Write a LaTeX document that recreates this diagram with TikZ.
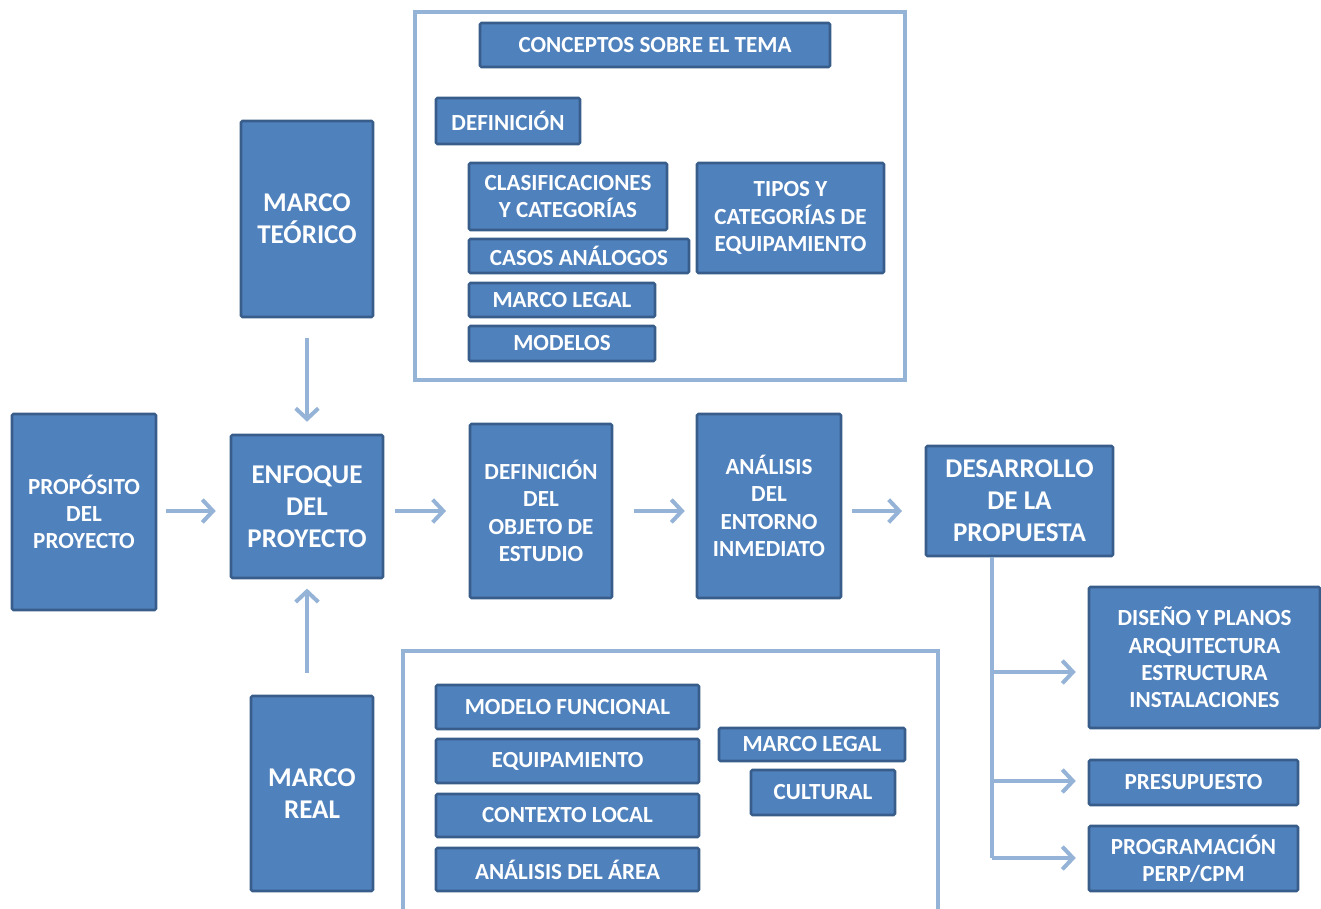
\documentclass[tikz,border=0pt]{standalone}
\usepackage{fontspec}
\setmainfont{Carlito}
\usetikzlibrary{arrows.meta}
\definecolor{boxfill}{HTML}{4F81BD}
\definecolor{boxedge}{HTML}{385D8A}
\definecolor{linkc}{HTML}{95B3D7}
\newcommand\bx[7]{\node[box,#6,minimum width={(#4-#2)*0.75pt},minimum height={(#5-#3)*0.75pt}] (#1) at ({(#2+#4)/2},{(#3+#5)/2}) {#7};}
\tikzset{
  box/.style={draw=boxedge,fill=boxfill,line width=1.9pt,rounded corners=1pt,text=white,align=center,inner sep=1pt},
  sm/.style={font=\fontsize{17.3}{20.5}\selectfont\bfseries},
  lg/.style={font=\fontsize{20.3}{24}\selectfont\bfseries},
  frame/.style={draw=linkc,line width=2.4pt},
  conn/.style={draw=linkc,line width=3pt},
  arr/.style={conn,-{Straight Barb[length=8pt,width=17pt,line width=3pt]}},
}
\begin{document}
\begin{tikzpicture}[x=0.75pt,y=-0.75pt]
\useasboundingbox (0,0) rectangle (1321,909);
% frames
\draw[frame] (415,12) rectangle (905,380);
\draw[frame] (403,915) -- (403,651) -- (938,651) -- (938,915);
% top frame content
\bx{conc}{480}{23}{830}{67}{sm}{CONCEPTOS SOBRE EL TEMA}
\bx{defi}{436}{98}{580}{144}{sm}{DEFINICIÓN}
\bx{clas}{469}{163}{667}{230}{sm}{CLASIFICACIONES\\Y CATEGORÍAS}
\bx{casos}{469}{239}{689}{273}{sm}{CASOS ANÁLOGOS}
\bx{mlegt}{469}{283}{655}{317}{sm}{MARCO LEGAL}
\bx{mode}{469}{326}{655}{361}{sm}{MODELOS}
\bx{tipos}{697}{163}{884}{273}{sm}{TIPOS Y\\CATEGORÍAS DE\\EQUIPAMIENTO}
% main row
\bx{teo}{241}{121}{373}{317}{lg}{MARCO\\TEÓRICO}
\bx{prop}{12}{414}{156}{610}{sm}{PROPÓSITO\\DEL\\PROYECTO}
\bx{enf}{231}{435}{383}{578}{lg}{ENFOQUE\\DEL\\PROYECTO}
\bx{obj}{470}{424}{612}{598}{sm}{DEFINICIÓN\\DEL\\OBJETO DE\\ESTUDIO}
\bx{ana}{697}{414}{841}{598}{sm}{ANÁLISIS\\DEL\\ENTORNO\\INMEDIATO}
\bx{des}{926}{446}{1113}{556}{lg}{DESARROLLO\\DE LA\\PROPUESTA}
\bx{real}{251}{696}{373}{891}{lg}{MARCO\\REAL}
% right column
\bx{dis}{1089}{587}{1320}{728}{sm}{DISEÑO Y PLANOS\\ARQUITECTURA\\ESTRUCTURA\\INSTALACIONES}
\bx{pres}{1089}{760}{1298}{805}{sm}{PRESUPUESTO}
\bx{prog}{1089}{826}{1298}{891}{sm}{PROGRAMACIÓN\\PERP/CPM}
% bottom frame content
\bx{mfun}{436}{685}{699}{729}{sm}{MODELO FUNCIONAL}
\bx{equi}{436}{739}{699}{783}{sm}{EQUIPAMIENTO}
\bx{ctx}{436}{794}{699}{837}{sm}{CONTEXTO LOCAL}
\bx{area}{436}{848}{699}{891}{sm}{ANÁLISIS DEL ÁREA}
\bx{mlegb}{719}{728}{905}{761}{sm}{MARCO LEGAL}
\bx{cult}{751}{770}{895}{815}{sm}{CULTURAL}
% connectors
\coordinate (row) at (0,511);
\draw[arr,shorten <=6.75pt,shorten >=10.5pt] (prop.east |- row) -- (enf.west |- row);
\draw[arr,shorten <=8.25pt,shorten >=17pt] (enf.east |- row) -- (obj.west |- row);
\draw[arr,shorten <=15.75pt,shorten >=8.25pt] (obj.east |- row) -- (ana.west |- row);
\draw[arr,shorten <=7.5pt,shorten >=17pt] (ana.east |- row) -- (des.west |- row);
\draw[arr,shorten <=15pt,shorten >=9pt] (teo.south) -- (enf.north);
\draw[arr,shorten <=16.5pt,shorten >=7pt] (enf.south |- real.north) -- (enf.south);
\coordinate (b1) at (992,672);
\coordinate (b2) at (992,781);
\coordinate (b3) at (992,858);
\draw[conn] (des.south -| b1) -- (b3);
\draw[arr,shorten >=9pt] (b3) -- (b3 -| prog.west);
\draw[arr,shorten >=9pt] (b1) -- (b1 -| dis.west);
\draw[arr,shorten >=9pt] (b2) -- (b2 -| pres.west);
\end{tikzpicture}
\end{document}
